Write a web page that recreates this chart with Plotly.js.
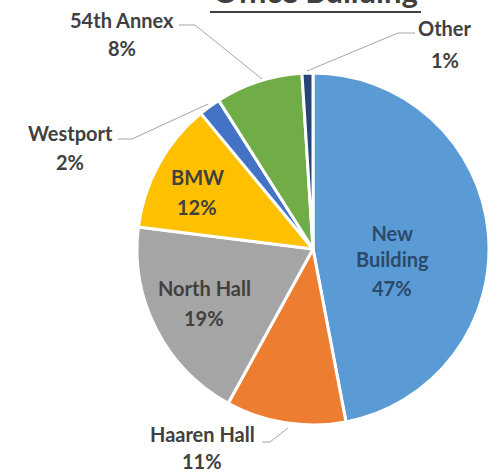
<!DOCTYPE html>
<html>
<head>
<meta charset="utf-8">
<script src="https://cdn.plot.ly/plotly-3.0.1.min.js"></script>
<style>html,body{margin:0;padding:0;background:#fff;}#chart{width:491px;height:474px;}</style>
</head>
<body>
<div id="chart"></div>
<script>
// ---- data ----
const categories = ["New Building", "Haaren Hall", "North Hall", "BMW", "Westport", "54th Annex", "Other"];
const values = [47, 11, 19, 12, 2, 8, 1];
const colors = ["#5B9BD5", "#ED7D31", "#A5A5A5", "#FFC000", "#4472C4", "#70AD47", "#264478"];
const chartTitle = "Office Building";

// ---- label layout (pixel positions of label centres) ----
const W = 491, H = 474;
const px = x => x / W;
const py = y => 1 - y / H;
const labelPos = {
  "New Building": {x: 392, yName: 246, yPct: 288, wrap: true, color: "#2b4a6b"},
  "Haaren Hall":  {x: 202, yName: 434, yPct: 461},
  "North Hall":   {x: 204, yName: 288, yPct: 318},
  "BMW":          {x: 197, yName: 177, yPct: 207},
  "Westport":     {x: 70,  yName: 133, yPct: 162},
  "54th Annex":   {x: 122, yName: 20,  yPct: 48},
  "Other":        {x: 445, yName: 28,  yPct: 60}
};
const leaders = [
  [[179,25],[195,25],[262,79]],
  [[415,33],[398,33],[307,71]],
  [[118,139],[132,139],[208,104]],
  [[262,442],[270,442],[288,428]]
];

const total = values.reduce((a, b) => a + b, 0);
const labelFont = {family: "Lato, 'Open Sans', sans-serif", size: 20, color: "#404040", weight: "bold"};

const annotations = [];
categories.forEach((c, i) => {
  const p = labelPos[c];
  const f = Object.assign({}, labelFont, p.color ? {color: p.color} : {});
  annotations.push({xref: "paper", yref: "paper", x: px(p.x), y: py(p.yName), xanchor: "center", yanchor: "middle",
    text: p.wrap ? c.replace(" ", "<br>") : c, showarrow: false, font: f});
  annotations.push({xref: "paper", yref: "paper", x: px(p.x), y: py(p.yPct), xanchor: "center", yanchor: "middle",
    text: Math.round(values[i] / total * 100) + "%", showarrow: false, font: f});
});
annotations.push({xref: "paper", yref: "paper", x: px(315), y: py(12), xanchor: "center", yanchor: "bottom",
  text: chartTitle, showarrow: false, font: {family: "Lato, sans-serif", size: 31, color: "#404040", weight: "bold"}});

const shapes = leaders.map(pts => ({
  type: "path", xref: "paper", yref: "paper",
  path: "M" + pts.map(p => px(p[0]) + "," + py(p[1])).join(" L"),
  line: {color: "#A6A6A6", width: 1}
}));
shapes.push({type: "line", xref: "paper", yref: "paper", x0: px(210), x1: px(421), y0: py(12), y1: py(12),
  line: {color: "#404040", width: 2}});

const trace = {
  type: "pie",
  labels: categories,
  values: values,
  sort: false,
  direction: "clockwise",
  rotation: 0,
  marker: {colors: colors, line: {color: "#FFFFFF", width: 3}},
  textinfo: "none",
  hoverinfo: "skip",
  domain: {x: [px(137), px(489)], y: [py(425), py(73)]}
};

const layout = {
  width: W, height: H,
  margin: {l: 0, r: 0, t: 0, b: 0},
  paper_bgcolor: "#FFFFFF",
  showlegend: false,
  annotations: annotations,
  shapes: shapes
};

Plotly.newPlot("chart", [trace], layout, {staticPlot: true, displayModeBar: false});
</script>
</body>
</html>
